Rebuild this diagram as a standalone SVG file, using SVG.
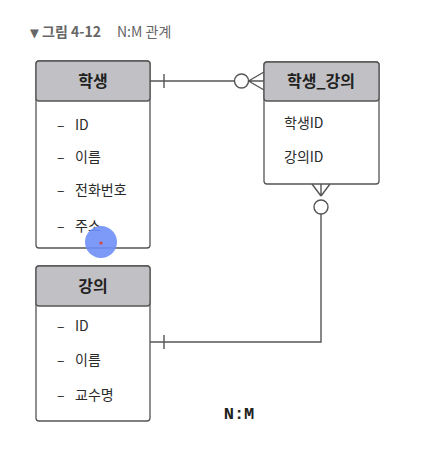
<svg xmlns="http://www.w3.org/2000/svg" width="442" height="453" viewBox="0 0 442 453">
<style>
.box{fill:#ffffff;stroke:#555;stroke-width:1.3}
.hdr{fill:#c1c1c5;stroke:#555;stroke-width:1.3}
.ht{font-family:"Noto Sans CJK KR","Noto Sans",sans-serif;font-size:16px;font-weight:bold;fill:#222;text-anchor:middle}
.it{font-family:"Noto Sans CJK KR","Noto Sans",sans-serif;font-size:14px;fill:#2a2a2a}
.ti{font-family:"Noto Sans CJK KR","Noto Sans",sans-serif;font-size:14px;fill:#666}
.ln{fill:none;stroke:#555;stroke-width:1.4}
.ci{fill:#fff;stroke:#555;stroke-width:1.4}
</style>
<rect width="442" height="453" fill="#fff"/>
<text class="ti" x="30" y="37"><tspan font-size="11.5" font-family="'DejaVu Sans',sans-serif">▼</tspan><tspan x="42" font-weight="bold">그림 4-12</tspan><tspan x="117">N:M 관계</tspan></text>

<g id="student">
<rect class="box" x="36" y="61" width="114" height="187" rx="3"/>
<rect class="hdr" x="36" y="61" width="114" height="40" rx="3"/>
<text class="ht" x="93" y="87">학생</text>
<text class="it" x="57" y="130">–</text><text class="it" x="75" y="130">ID</text>
<text class="it" x="57" y="162">–</text><text class="it" x="75" y="162">이름</text>
<text class="it" x="57" y="195">–</text><text class="it" x="75" y="195">전화번호</text>
<text class="it" x="57" y="231">–</text><text class="it" x="75" y="231">주소</text>
</g>

<g id="student_course">
<rect class="box" x="264" y="62" width="115" height="122" rx="3"/>
<rect class="hdr" x="264" y="62" width="115" height="39" rx="3"/>
<text class="ht" x="321" y="87">학생_강의</text>
<text class="it" x="284" y="128">학생ID</text>
<text class="it" x="284" y="162">강의ID</text>
</g>

<g id="course">
<rect class="box" x="36" y="266" width="114" height="155" rx="3"/>
<rect class="hdr" x="36" y="266" width="114" height="40" rx="3"/>
<text class="ht" x="93" y="292">강의</text>
<text class="it" x="57" y="331">–</text><text class="it" x="75" y="331">ID</text>
<text class="it" x="57" y="365">–</text><text class="it" x="75" y="365">이름</text>
<text class="it" x="57" y="400">–</text><text class="it" x="75" y="400">교수명</text>
</g>

<g id="connectors">
<path class="ln" d="M150 81 H234.5"/>
<path class="ln" d="M164 74 V88"/>
<circle class="ci" cx="241.5" cy="81" r="7"/>
<path class="ln" d="M248.5 81 L264 72 M248.5 81 H264 M248.5 81 L264 90"/>

<path class="ln" d="M321 196 L312 184 M321 196 V184 M321 196 L330 184"/>
<circle class="ci" cx="321" cy="207" r="7"/>
<path class="ln" d="M321 214 V342 H150"/>
<path class="ln" d="M164 335 V349"/>
</g>

<text x="239" y="419" font-family="'Liberation Mono','DejaVu Sans Mono',monospace" font-size="17" font-weight="bold" fill="#222" text-anchor="middle">N:M</text>

<circle cx="101" cy="242" r="16" fill="#6f8ff7" opacity="0.9"/>
<circle cx="101" cy="243" r="1.6" fill="#e04040"/>
</svg>
